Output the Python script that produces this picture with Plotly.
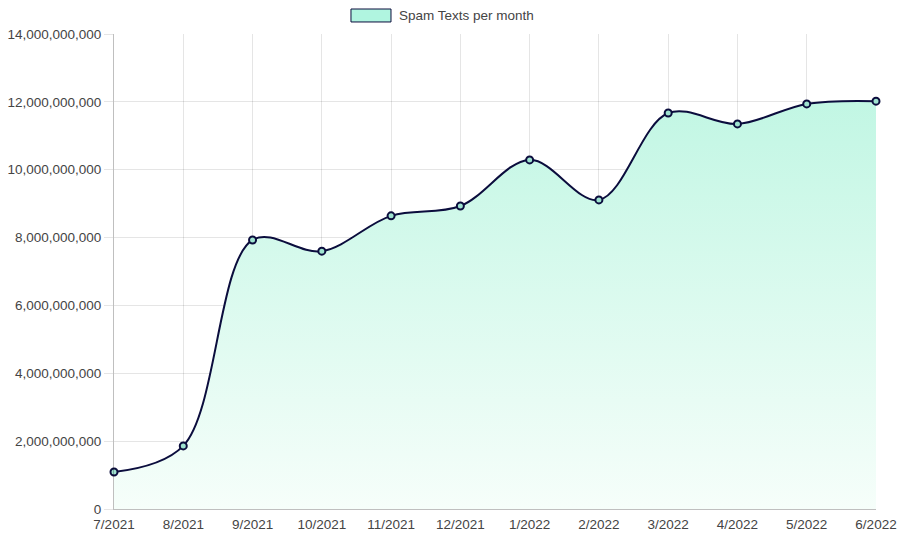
import plotly.graph_objects as go

months = ["7/2021", "8/2021", "9/2021", "10/2021", "11/2021", "12/2021",
          "1/2022", "2/2022", "3/2022", "4/2022", "5/2022", "6/2022"]
spam_texts = [1.09e9, 1.86e9, 7.93e9, 7.60e9, 8.64e9, 8.93e9,
              10.29e9, 9.11e9, 11.67e9, 11.35e9, 11.94e9, 12.02e9]
series_name = "Spam Texts per month"
y_ticks = [0, 2e9, 4e9, 6e9, 8e9, 10e9, 12e9, 14e9]
y_max = 14e9

line_color = "#0b0d3d"
fill_top = "#b9f5e0"
fill_bottom = "#f6fefa"
text_color = "#444"
fs = 13.5

fig = go.Figure()
fig.add_trace(go.Scatter(
    x=months, y=spam_texts, name=series_name,
    mode="lines+markers",
    line=dict(color=line_color, width=2, shape="spline", smoothing=1.0),
    marker=dict(size=7, color="#9fe3d0", line=dict(color=line_color, width=2)),
    fill="tozeroy",
    fillgradient=dict(type="vertical", start=0, stop=y_max,
                      colorscale=[[0, fill_bottom], [1, fill_top]]),
    cliponaxis=False,
    showlegend=False,
    hoverinfo="x+y",
))

fig.update_layout(
    width=900, height=540,
    margin=dict(l=114, r=24, t=34, b=31, autoexpand=False),
    paper_bgcolor="white", plot_bgcolor="white",
    font=dict(family="Liberation Sans, Arial, sans-serif", size=fs, color=text_color),
    xaxis=dict(
        range=[0, len(months) - 1], showgrid=True, gridcolor="rgba(0,0,0,0.1)",
        ticks="", ticklabelstandoff=3,
        showline=True, linecolor="rgba(0,0,0,0.25)", zeroline=False,
        tickfont=dict(size=fs, color=text_color),
    ),
    yaxis=dict(
        range=[0, y_max], tickvals=y_ticks, tickformat=",d",
        showgrid=True, gridcolor="rgba(0,0,0,0.1)",
        ticks="outside", ticklen=9, tickcolor="rgba(0,0,0,0.1)",
        ticklabelstandoff=0,
        showline=True, linecolor="rgba(0,0,0,0.25)", zeroline=False,
        tickfont=dict(size=fs, color=text_color),
    ),
    shapes=[dict(type="rect", xref="paper", yref="paper",
                 x0=0.311, x1=0.3635, y0=1.0253, y1=1.0526,
                 fillcolor="#b0f5e0", line=dict(color=line_color, width=1))],
    annotations=[dict(text=series_name, xref="paper", yref="paper",
                      x=0.3714, y=1.039, xanchor="left", yanchor="middle",
                      showarrow=False, font=dict(size=fs, color=text_color))],
)

fig.write_html("out.html", config={"displayModeBar": False},
               post_script="document.body.style.margin='0';document.body.style.padding='0';")
